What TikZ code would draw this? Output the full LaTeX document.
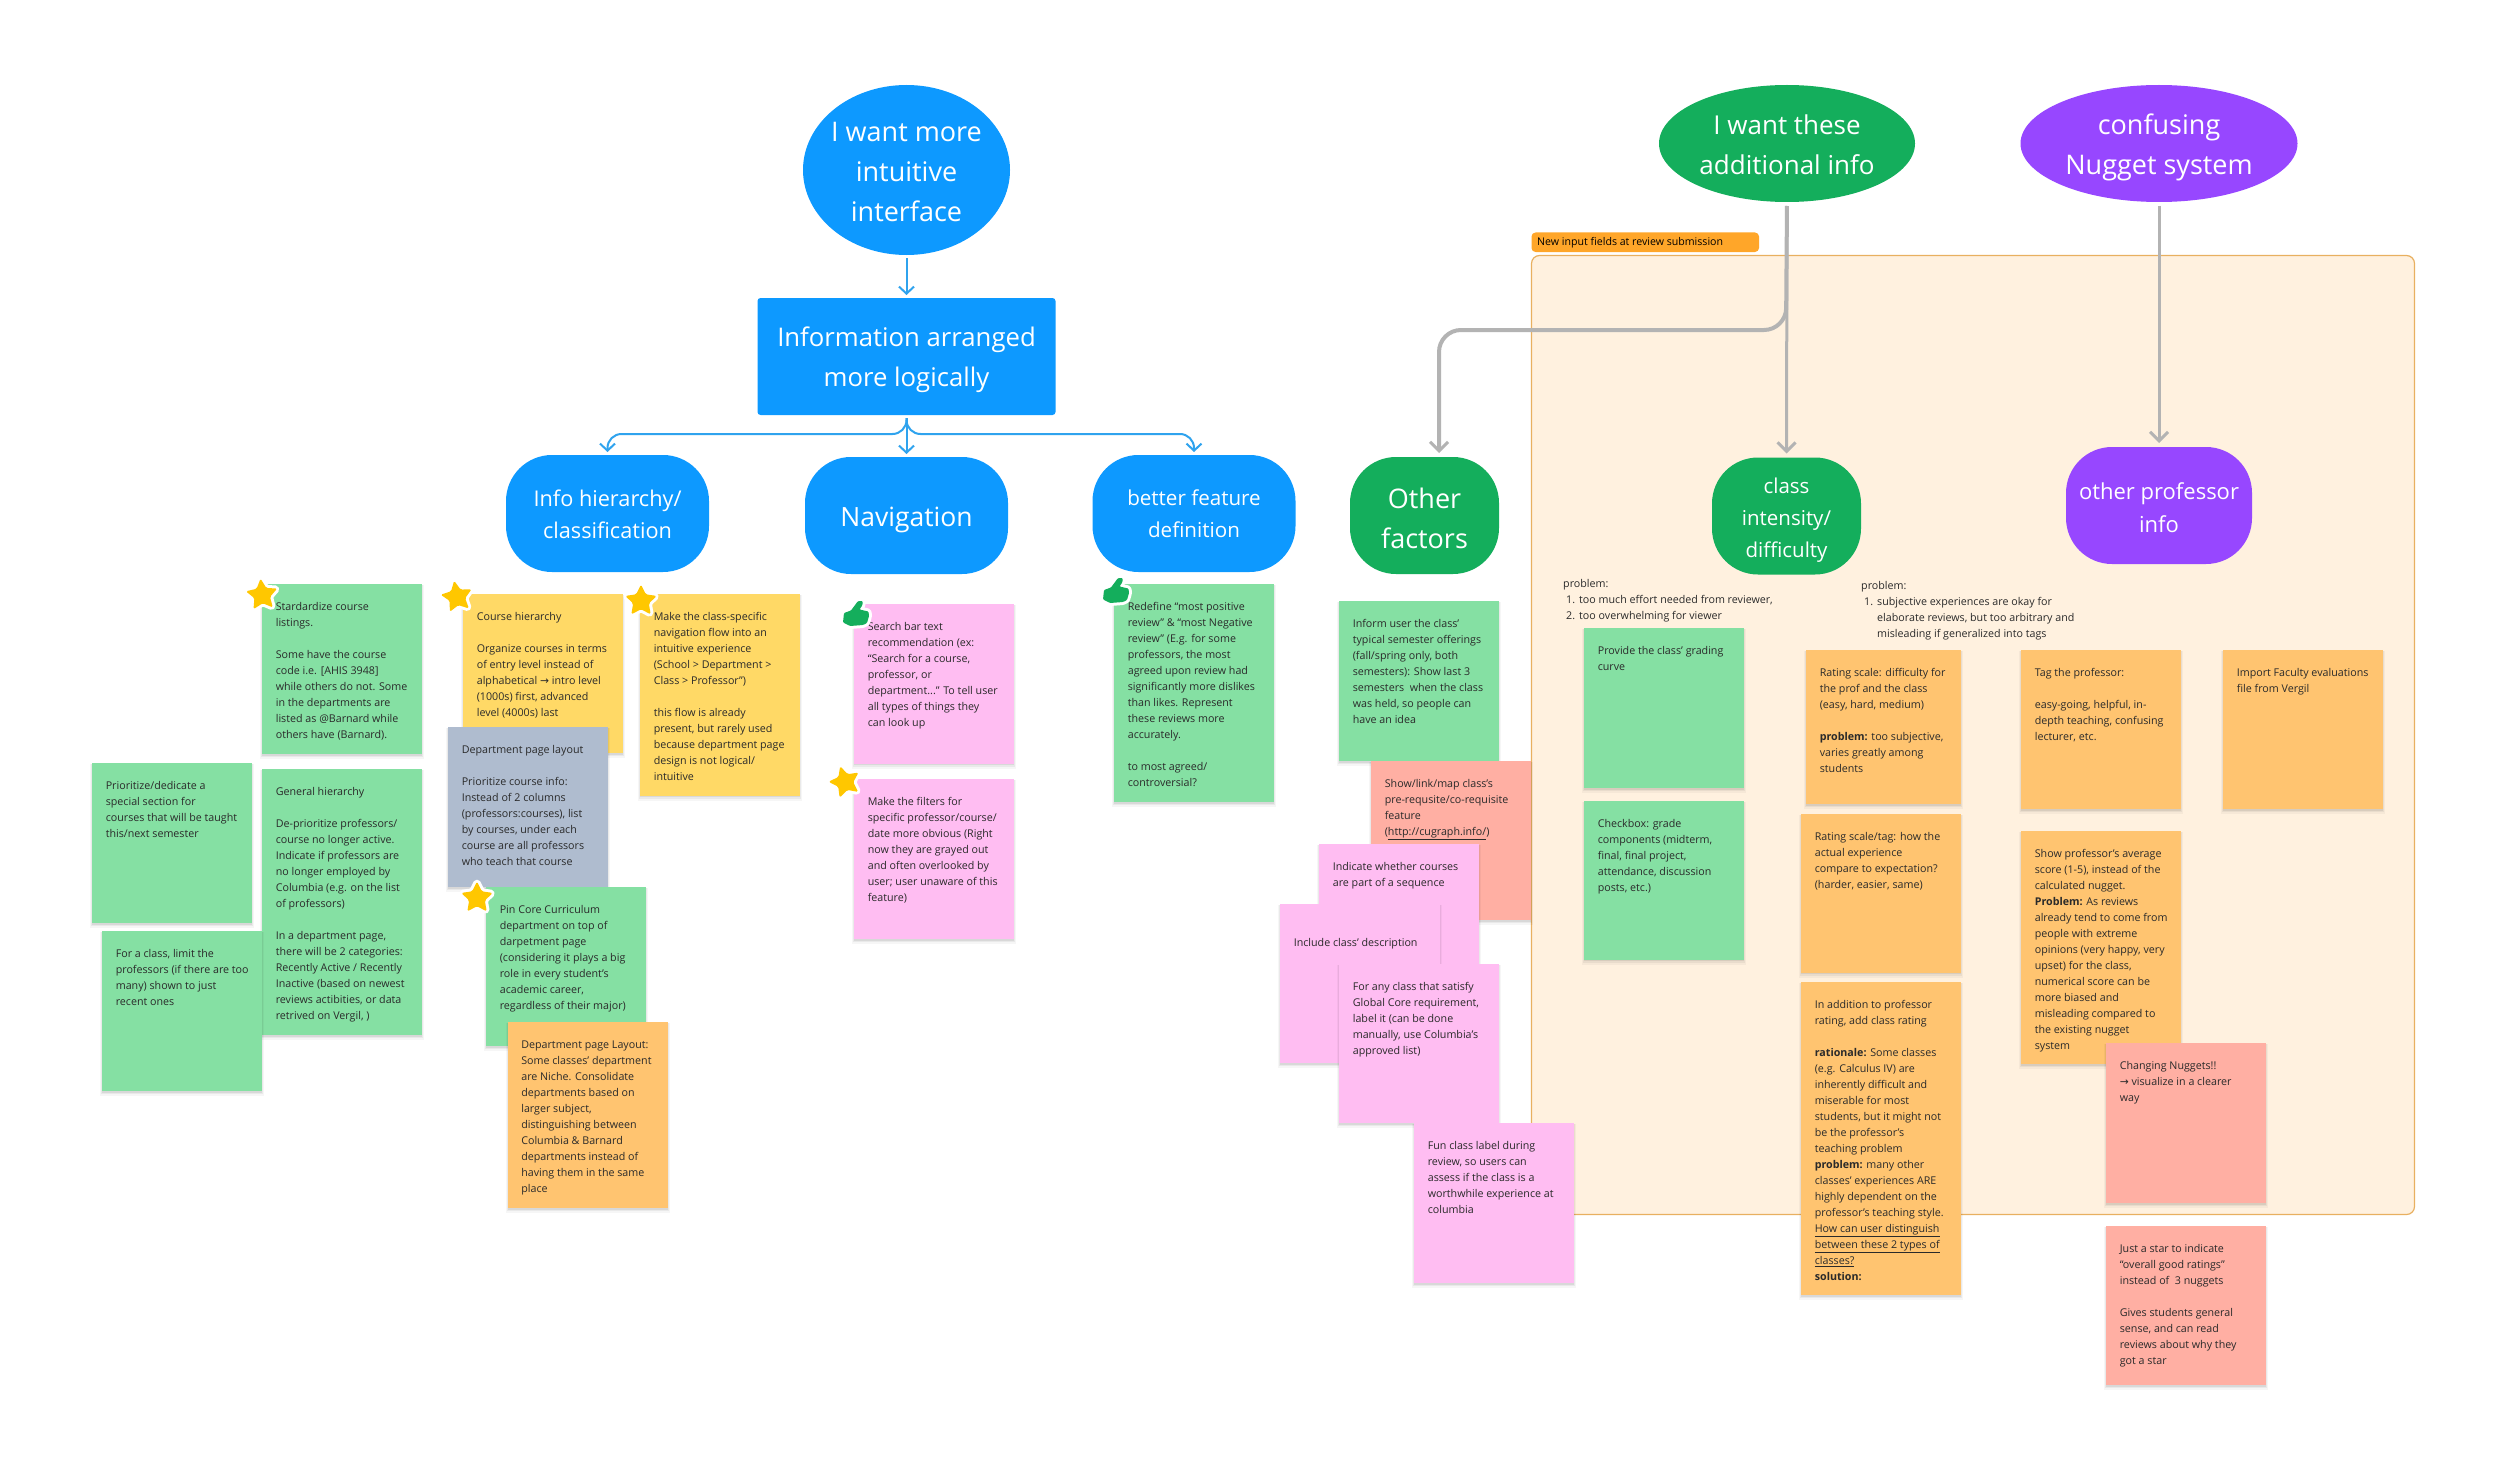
\documentclass[tikz,border=0pt]{standalone}
\usepackage{fontspec}
\setmainfont{Open Sans}
\newfontfamily\arrowfont{DejaVu Sans}
\usetikzlibrary{shapes.geometric,arrows.meta,calc}
\definecolor{bluec}{HTML}{0D99FF}
\definecolor{greenc}{HTML}{14AE5C}
\definecolor{purplec}{HTML}{9747FF}
\definecolor{sgreen}{HTML}{85E0A3}
\definecolor{syellow}{HTML}{FFD966}
\definecolor{sorange}{HTML}{FFC470}
\definecolor{spink}{HTML}{FFBDF2}
\definecolor{ssalmon}{HTML}{FFAFA3}
\definecolor{sgray}{HTML}{AFBCCF}
\definecolor{panelfill}{HTML}{FFF1DF}
\definecolor{panelline}{HTML}{E8B060}
\definecolor{tagfill}{HTML}{FFA629}
\definecolor{ink}{HTML}{2A2A2A}
\definecolor{arrowblue}{HTML}{2FA3EE}
\definecolor{arrowgray}{HTML}{B3B3B3}
\definecolor{starc}{HTML}{FFC700}
\newcommand{\stickfont}{\fontsize{10.7}{16}\selectfont}
\newcommand{\tightls}{\fontsize{10.7}{15.3}\selectfont}
\newcommand{\bl}{\\[16pt]}
\newcommand{\arw}{{\arrowfont →}}
\tikzset{
  notebox/.style={rectangle,anchor=north west,inner sep=0pt,outer sep=0pt},
  notetext/.style={anchor=north west,inner sep=0pt,align=left,font=\stickfont,text=ink},
  plain/.style={anchor=north west,inner sep=0pt,align=left,font=\stickfont,text=ink},
  bigshape/.style={inner sep=0pt,outer sep=0pt,fill=#1},
  captext/.style={text=white,align=center,inner sep=0pt},
  capsule/.style={rectangle,rounded corners=46pt},
  oval/.style={ellipse},
  barrow/.style={draw=arrowblue,line width=2pt,-{Straight Barb[length=7pt,width=15pt,line width=2pt]},shorten >=3pt,shorten <=3pt},
  garrow/.style={draw=arrowgray,line width=3pt,-{Straight Barb[length=9pt,width=18pt,line width=3pt]},shorten >=4pt,shorten <=4pt},
  starmark/.style={star,star points=5,star point ratio=2.0,minimum size=33pt,inner sep=0pt,fill=starc,rounded corners=1.5pt,preaction={draw=white,line width=6pt,line join=round}},
}
\newcommand{\stick}[7]{%
  \fill[black,opacity=.035] (#2-2,#3+1) rectangle (#2+#4+2,#3+#5+5);
  \fill[black,opacity=.05] (#2-1,#3+1) rectangle (#2+#4+1,#3+#5+3);
  \fill[black,opacity=.07] (#2,#3+1) rectangle (#2+#4,#3+#5+1.5);
  \node[notebox,fill=#6,minimum width=#4pt,minimum height=#5pt] (#1) at (#2,#3) {};
  \node[notetext] (#1t) at ($(#1.north west)+(13.6,15.5)$) {\rule{0pt}{11pt}#7};
}
\newcommand{\thumbmark}[2]{%
  \draw[shift={(#1,#2)},fill=greenc,draw=none,rounded corners=1pt,preaction={draw=white,line width=6pt,line join=round}]
    (-12,-1) -- (-5,-3.5) -- (2,-13) -- (6.5,-13) -- (6.5,-9) -- (3.5,-4.5) -- (12.5,-2.5) -- (13,2) -- (11,9) -- (7,11) -- (-6,12) -- (-13,8.5) -- cycle;
}
\begin{document}
\begin{tikzpicture}[x=1pt,y=-1pt]
\useasboundingbox (0,0) rectangle (2500,1482);
\fill[white] (0,0) rectangle (2500,1482);

% panel and tag
\node[notebox,fill=panelfill,draw=panelline,line width=1.2pt,rounded corners=8pt,minimum width=883pt,minimum height=959pt] (panel) at (1531.5,255.5) {};
\node[notebox,fill=tagfill,rounded corners=4pt,minimum width=227.5pt,minimum height=19.5pt] (tag) at (1531.5,232.5) {};
\node[anchor=west,inner sep=0pt,font=\fontsize{10.6}{14}\selectfont,text=black] (tagt) at (1537,243) {New input fields at review submission};

% top shapes
\node[oval,bigshape=bluec,minimum width=207pt,minimum height=170pt] (want) at (906.5,170) {};
\node[rectangle,bigshape=bluec,rounded corners=3pt,minimum width=298pt,minimum height=117pt] (info) at (906.5,356.5) {};
\node[capsule,bigshape=bluec,minimum width=203pt,minimum height=117pt] (hier) at (607.5,513.5) {};
\node[capsule,bigshape=bluec,minimum width=203pt,minimum height=117pt] (nav) at (906.5,515.5) {};
\node[capsule,bigshape=bluec,minimum width=203pt,minimum height=117pt] (feat) at (1194,513.5) {};
\node[capsule,bigshape=greenc,minimum width=149pt,minimum height=117pt] (other) at (1424.5,515.5) {};
\node[oval,bigshape=greenc,minimum width=256pt,minimum height=117pt] (addl) at (1787,143.5) {};
\node[oval,bigshape=purplec,minimum width=277pt,minimum height=117pt] (nugget) at (2159,143.5) {};
\node[capsule,bigshape=greenc,minimum width=149pt,minimum height=117pt] (intens) at (1786.5,516) {};
\node[capsule,bigshape=purplec,minimum width=186pt,minimum height=117pt] (prof) at (2159,505.5) {};

\node[captext,font=\fontsize{27}{40}\selectfont] (wantt) at ($(want.center)+(0,2)$) {I want more\\intuitive\\interface};
\node[captext,font=\fontsize{25.7}{40}\selectfont] (infot) at ($(info.center)+(0,3)$) {Information arranged\\more logically};
\node[captext,font=\fontsize{21.7}{32}\selectfont] (hiert) at ($(hier.center)+(0,1)$) {Info hierarchy/\\classification};
\node[captext,font=\fontsize{26.5}{40}\selectfont] (navt) at ($(nav.center)+(0,4.5)$) {Navigation};
\node[captext,font=\fontsize{20.6}{32}\selectfont] (featt) at ($(feat.center)+(0,0.6)$) {better feature\\definition};
\node[captext,font=\fontsize{27}{40}\selectfont] (othert) at ($(other.center)+(0,2.5)$) {Other\\factors};
\node[captext,font=\fontsize{26}{40}\selectfont] (addlt) at ($(addl.center)+(0,1)$) {I want these\\additional info};
\node[captext,font=\fontsize{27}{40}\selectfont] (nuggett) at ($(nugget.center)+(0,3.5)$) {confusing\\Nugget system};
\node[captext,font=\fontsize{20.5}{32}\selectfont] (intenst) at ($(intens.center)+(0,4)$) {class\\intensity/\\difficulty};
\node[captext,font=\fontsize{22}{33}\selectfont] (proft) at ($(prof.center)+(0,2)$) {other professor\\info};

% connectors
\coordinate (hub) at (906.5,434);
\coordinate (corner) at (1786,330);
\coordinate (otherend) at (1439,457);
\draw[barrow] (want.south) -- (info.north);
\draw[barrow,rounded corners=14pt] (info.south) -- (hub) -| (hier.north);
\draw[barrow] (info.south) -- (nav.north);
\draw[barrow,rounded corners=14pt] (info.south) -- (hub) -| (feat.north);
\draw[garrow,line width=4pt,rounded corners=22pt] (addl.south) -- (corner) -| (otherend);
\draw[garrow] (addl.south) -- (intens.north);
\draw[garrow] (nugget.south) -- (prof.north);

% left stickies
\stick{std}{262}{584}{160}{170}{sgreen}{Stardardize course\\listings.\bl Some have the course\\code i.e. [AHIS 3948]\\while others do not. Some\\in the departments are\\listed as @Barnard while\\others have (Barnard).}
\stick{prio}{92}{763}{160}{160}{sgreen}{Prioritize/dedicate a\\special section for\\courses that will be taught\\this/next semester}
\stick{genh}{262}{769}{160}{266}{sgreen}{General hierarchy\bl De-prioritize professors/\\course no longer active.\\Indicate if professors are\\no longer employed by\\Columbia (e.g. on the list\\of professors)\bl In a department page,\\there will be 2 categories:\\Recently Active / Recently\\Inactive (based on newest\\reviews actibities, or data\\retrived on Vergil, )}
\stick{limit}{102}{931}{160}{160}{sgreen}{For a class, limit the\\professors (if there are too\\many) shown to just\\recent ones}
\stick{course}{463}{594}{160}{159}{syellow}{Course hierarchy\bl Organize courses in terms\\of entry level instead of\\alphabetical \arw{} intro level\\(1000s) first, advanced\\level (4000s) last}
\stick{flow}{640}{594}{160}{201.5}{syellow}{Make the class-specific\\navigation flow into an\\intuitive experience\\(School > Department >\\Class > Professor”)\bl this flow is already\\present, but rarely used\\because department page\\design is not logical/\\intuitive}
\stick{dept}{448}{727}{160}{160}{sgray}{Department page layout\bl Prioritize course info:\\Instead of 2 columns\\(professors:courses), list\\by courses, under each\\course are all professors\\who teach that course}
\stick{core}{486}{887}{160}{159}{sgreen}{\tightls Pin Core Curriculum\\department on top of\\darpetment page\\(considering it plays a big\\role in every student’s\\academic career,\\regardless of their major)}
\stick{layout}{507.5}{1022}{160}{186}{sorange}{Department page Layout:\\Some classes’ department\\are Niche. Consolidate\\departments based on\\larger subject,\\distinguishing between\\Columbia \& Barnard\\departments instead of\\having them in the same\\place}

% navigation stickies
\stick{search}{854}{604}{160}{159.5}{spink}{Search bar text\\recommendation (ex:\\“Search for a course,\\professor, or\\department...” To tell user\\all types of things they\\can look up}
\stick{filt}{854}{779}{160}{160}{spink}{Make the filters for\\specific professor/course/\\date more obvious (Right\\now they are grayed out\\and often overlooked by\\user; user unaware of this\\feature)}
\stick{redef}{1114}{584}{160}{218}{sgreen}{Redefine “most positive\\review” \& “most Negative\\review” (E.g. for some\\professors, the most\\agreed upon review had\\significantly more dislikes\\than likes. Represent\\these reviews more\\accurately.\bl to most agreed/\\controversial?}

% other factors stickies
\stick{inform}{1339}{601}{160}{160}{sgreen}{Inform user the class’\\typical semester offerings\\(fall/spring only, both\\semesters): Show last 3\\semesters\ \ when the class\\was held, so people can\\have an idea}
\stick{prereq}{1371}{761}{160}{159}{ssalmon}{Show/link/map class’s\\pre-requsite/co-requisite\\feature\\(\underline{http://cugraph.info/})}
\stick{seq}{1319}{844}{160}{160}{spink}{Indicate whether courses\\are part of a sequence}
\stick{desc}{1280}{904}{159.5}{159}{spink}{\rule{0pt}{26.5pt}Include class’ description}
\stick{gcore}{1339}{964}{160}{159}{spink}{For any class that satisfy\\Global Core requirement,\\label it (can be done\\manually, use Columbia’s\\approved list)}
\stick{fun}{1414}{1123}{159.5}{160}{spink}{Fun class label during\\review, so users can\\assess if the class is a\\worthwhile experience at\\columbia}

% problems
\node[plain] (prob1) at (1563,576) {\rule{0pt}{11pt}problem:\\\hspace*{3pt}\makebox[13pt][l]{1.}too much effort needed from reviewer,\\\hspace*{3pt}\makebox[13pt][l]{2.}too overwhelming for viewer};
\node[plain] (prob2) at (1861,578) {\rule{0pt}{11pt}problem:\\\hspace*{3pt}\makebox[13pt][l]{1.}subjective experiences are okay for\\\hspace*{16pt}elaborate reviews, but too arbitrary and\\\hspace*{16pt}misleading if generalized into tags};

% panel stickies
\stick{curve}{1584}{628}{160}{160}{sgreen}{Provide the class’ grading\\curve}
\stick{check}{1584}{801}{160}{158.5}{sgreen}{\tightls Checkbox: grade\\components (midterm,\\final, final project,\\attendance, discussion\\posts, etc.)}
\stick{rate}{1806}{650}{155}{154}{sorange}{\tightls Rating scale: difficulty for\\the prof and the class\\(easy, hard, medium)\\[15.3pt]\textbf{problem:} too subjective,\\varies greatly among\\students}
\stick{expect}{1801}{813.5}{160}{159}{sorange}{Rating scale/tag: how the\\actual experience\\compare to expectation?\\(harder, easier, same)}
\stick{addrate}{1801}{982}{160}{313}{sorange}{In addition to professor\\rating, add class rating\bl \textbf{rationale:} Some classes\\(e.g. Calculus IV) are\\inherently difficult and\\miserable for most\\students, but it might not\\be the professor’s\\teaching problem\\\textbf{problem:} many other\\classes’ experiences ARE\\highly dependent on the\\professor’s teaching style.\\\underline{How can user distinguish}\\\underline{between these 2 types of}\\\underline{classes?}\\\textbf{solution:}}
\stick{tagprof}{2021}{650}{159.5}{159}{sorange}{Tag the professor:\bl easy-going, helpful, in-\\depth teaching, confusing\\lecturer, etc.}
\stick{faculty}{2223}{650}{160}{159}{sorange}{Import Faculty evaluations\\file from Vergil}
\stick{score}{2021}{831}{159.5}{233}{sorange}{Show professor’s average\\score (1-5), instead of the\\calculated nugget.\\\textbf{Problem:} As reviews\\already tend to come from\\people with extreme\\opinions (very happy, very\\upset) for the class,\\numerical score can be\\more biased and\\misleading compared to\\the existing nugget\\system}
\stick{change}{2106}{1043}{160}{160}{ssalmon}{Changing Nuggets!!\\\arw{} visualize in a clearer\\way}
\stick{just}{2106}{1225.5}{160}{159.5}{ssalmon}{Just a star to indicate\\“overall good ratings”\\instead of\ \ 3 nuggets\bl Gives students general\\sense, and can read\\reviews about why they\\got a star}

% marks
\node[starmark,rotate=5] (star1) at (262,595) {};
\node[starmark,rotate=10] (star2) at (457,597) {};
\node[starmark,rotate=0] (star3) at (641,601) {};
\node[starmark,rotate=0] (star4) at (477,898) {};
\node[starmark,rotate=17] (star5) at (845,782) {};
\thumbmark{856}{614}
\thumbmark{1116}{591}
\end{tikzpicture}
\end{document}
